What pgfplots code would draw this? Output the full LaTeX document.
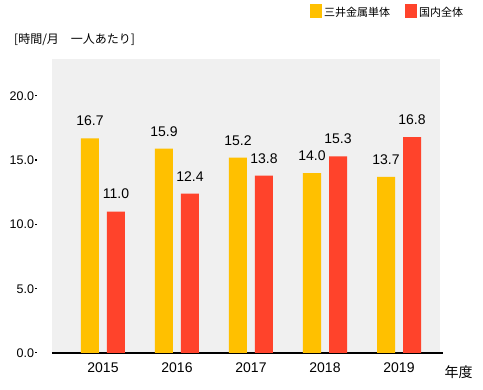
\documentclass[border=0pt]{standalone}
\usepackage{fontspec}
\setmainfont{Liberation Sans}
\newfontfamily\cjk{Noto Sans CJK JP}
\usepackage{pgfplots}
\pgfplotsset{compat=1.18}
\definecolor{cyel}{HTML}{FFC000}
\definecolor{cred}{HTML}{FF432B}
\definecolor{bg}{HTML}{F0F0F0}
\begin{document}
\begin{tikzpicture}
\path[use as bounding box] (0pt,0pt) rectangle (483pt,-390pt);
\begin{axis}[
  at={(52pt,-353pt)}, anchor=south west,
  scale only axis, width=388pt, height=294pt,
  xmin=-0.689, xmax=4.554, ymin=0, ymax=22.88,
  ybar=8pt, bar width=18pt,
  axis background/.style={fill=bg},
  axis x line*=bottom, axis y line*=left,
  x axis line style={-, black, line width=1.4pt, shorten >=-3pt},
  y axis line style={draw=none},
  xtick={0,1,2,3,4}, xticklabels={2015,2016,2017,2018,2019},
  ytick={0,5,10,15,20},
  major tick length=0pt,
  /pgf/number format/assume math mode=true,
  yticklabel={\pgfmathprintnumber[fixed,fixed zerofill,precision=1]{\tick}\hspace{1.5pt}\rule[0.32em]{2pt}{1.2pt}},
  yticklabel style={font=\fontsize{12.5}{14}\selectfont, anchor=east, xshift=-11pt},
  xticklabel style={font=\fontsize{14}{16}\selectfont, yshift=-6pt},
  nodes near coords,
  nodes near coords style={font=\fontsize{14}{16}\selectfont, yshift=9pt,
    /pgf/number format/fixed, /pgf/number format/fixed zerofill,
    /pgf/number format/precision=1, /pgf/number format/assume math mode=true},
  legend style={at={(0.665,1.187)}, anchor=north west, draw=none, fill=none,
    font=\cjk\fontsize{11}{13}\selectfont, legend columns=2,
    /tikz/every even column/.append style={column sep=13pt},
    inner sep=0pt, outer sep=0pt},
  clip=false,
]
\addplot[fill=cyel, draw=none,
  legend image code/.code={\fill[cyel] (0pt,-5pt) rectangle (12pt,9pt);}]
  coordinates {(0,16.7) (1,15.9) (2,15.2) (3,14.0) (4,13.7)};
\addlegendentry{三井金属単体}
\addplot[fill=cred, draw=none,
  legend image code/.code={\fill[cred] (0pt,-5pt) rectangle (12pt,9pt);}]
  coordinates {(0,11.0) (1,12.4) (2,13.8) (3,15.3) (4,16.8)};
\addlegendentry{国内全体}
\end{axis}
\node[anchor=west, inner sep=0pt, font=\cjk\fontsize{12}{14}\selectfont] at (14pt,-39.5pt) {[時間/月　一人あたり]};
\node[anchor=center, font=\cjk\fontsize{14}{16}\selectfont] at (458.5pt,-372.5pt) {年度};
\end{tikzpicture}
\end{document}
